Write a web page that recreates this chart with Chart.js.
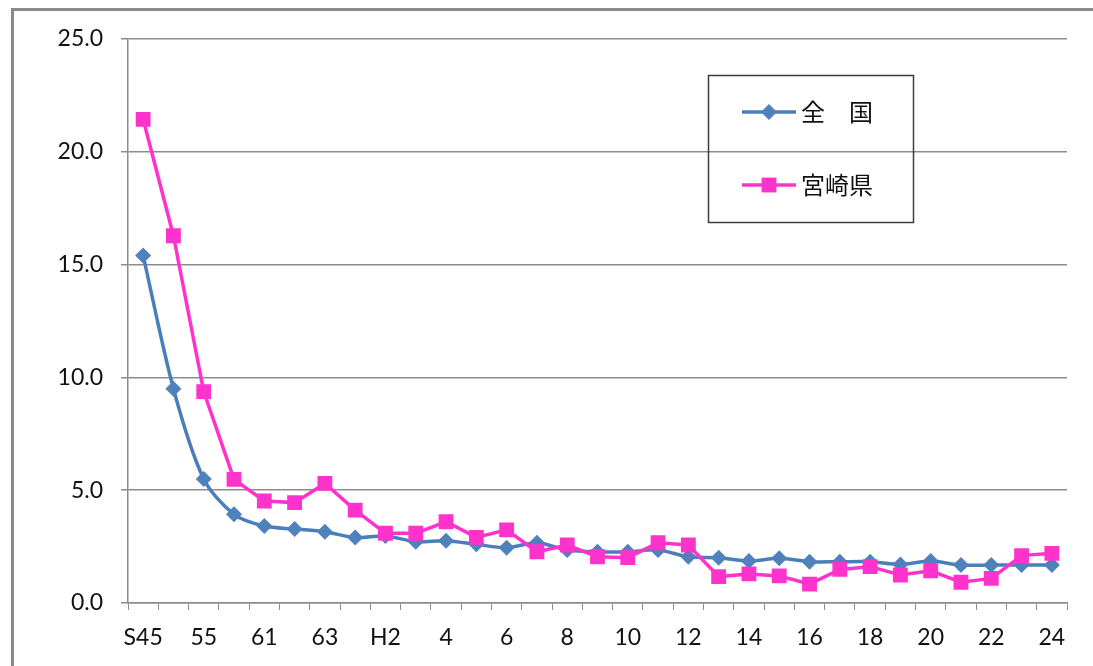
<!DOCTYPE html>
<html>
<head>
<meta charset="utf-8">
<script src="https://cdn.jsdelivr.net/npm/chart.js@4/dist/chart.umd.min.js"></script>
<style>
html, body { margin: 0; padding: 0; background: #fff; overflow: hidden; }
#frame { position: absolute; left: 11px; top: 8px; width: 1200px; height: 800px;
         border-top: 3px solid #8a8a8a; border-left: 3px solid #8a8a8a; }
#wrap { position: absolute; left: 0; top: 0; width: 1093px; height: 666px; }
</style>
</head>
<body>
<div id="frame"></div>
<div id="wrap"><canvas id="myChart" width="1093" height="666"></canvas></div>
<script>
// data
const years = ['S45', '50', '55', '60', '61', '62', '63', 'H元', 'H2', '3', '4', '5', '6', '7', '8', '9',
               '10', '11', '12', '13', '14', '15', '16', '17', '18', '19', '20', '21', '22', '23', '24'];
const national = [15.4, 9.5, 5.5, 3.93, 3.41, 3.28, 3.16, 2.9, 2.97, 2.72, 2.76, 2.6, 2.45, 2.67, 2.35, 2.27,
                  2.27, 2.35, 2.05, 2.01, 1.86, 1.98, 1.83, 1.83, 1.83, 1.71, 1.86, 1.68, 1.68, 1.68, 1.68];
const miyazaki = [21.44, 16.28, 9.37, 5.48, 4.52, 4.45, 5.3, 4.12, 3.09, 3.09, 3.6, 2.91, 3.24, 2.27, 2.57, 2.05,
                  2.01, 2.67, 2.57, 1.17, 1.29, 1.2, 0.84, 1.49, 1.61, 1.24, 1.43, 0.92, 1.09, 2.1, 2.2];
const yTicks = [0, 5, 10, 15, 20, 25];

const FONT = 'Lato, "Noto Sans", sans-serif';
const GRID = '#8c8c8c';

// legend in a box inside the plot, like the original
const boxLegend = {
    id: 'boxLegend',
    afterDraw(chart) {
        const ctx = chart.ctx;
        ctx.save();
        ctx.strokeStyle = '#3c3c3c';
        ctx.lineWidth = 1.5;
        ctx.strokeRect(708.5, 75.5, 205, 147);
        const rowsY = [112, 185];
        chart.data.datasets.forEach((ds, i) => {
            const y = rowsY[i];
            ctx.strokeStyle = ds.borderColor;
            ctx.lineWidth = ds.borderWidth;
            ctx.beginPath();
            ctx.moveTo(742, y);
            ctx.lineTo(796, y);
            ctx.stroke();
            ctx.fillStyle = ds.backgroundColor;
            Chart.helpers.drawPoint(ctx, {pointStyle: ds.pointStyle, radius: ds.pointRadius, rotation: 0, borderWidth: 0}, 769, y);
            ctx.fillStyle = '#111';
            ctx.font = '24px "Noto Sans CJK JP"';
            ctx.textBaseline = 'middle';
            ctx.fillText(ds.label, 801, y);
        });
        ctx.restore();
    }
};

const ctx = document.getElementById('myChart').getContext('2d');
const myChart = new Chart(ctx, {
    type: 'line',
    data: {
        labels: years,
        datasets: [{
            label: '全　国',
            data: national,
            borderColor: '#4A7EBB',
            backgroundColor: '#4F81BD',
            borderWidth: 3.5,
            pointStyle: 'rectRot',
            pointRadius: 8,
            pointBorderWidth: 0,
            tension: 0.3,
            order: 1,
        }, {
            label: '宮崎県',
            data: miyazaki,
            borderColor: '#FF33CC',
            backgroundColor: '#FF33CC',
            borderWidth: 3.5,
            pointStyle: 'rect',
            pointRadius: 10.5,
            pointBorderWidth: 0,
            tension: 0,
            order: 0,
        }]
    },
    options: {
        responsive: false,
        animation: false,
        events: [],
        layout: { padding: { left: 0, top: 39, right: 26, bottom: 0 } },
        plugins: { legend: { display: false }, tooltip: { enabled: false } },
        scales: {
            x: {
                offset: true,
                afterFit: (s) => { s.height = 63; },
                border: { color: GRID, width: 1.5 },
                grid: { offset: true, drawOnChartArea: false, color: GRID, tickLength: 7 },
                ticks: {
                    autoSkip: false, maxRotation: 0, padding: 14, color: '#111',
                    font: { family: FONT, size: 23 },
                    callback: (v, i) => (i % 2 === 0 ? years[i] : '')
                }
            },
            y: {
                min: 0, max: 25,
                afterFit: (s) => { s.width = 128; },
                afterBuildTicks: (s) => { s.ticks = yTicks.map(v => ({value: v})); },
                border: { color: GRID, width: 1.5 },
                grid: { color: GRID, lineWidth: 1.5, tickLength: 7 },
                ticks: {
                    padding: 18, color: '#111',
                    font: { family: FONT, size: 23 },
                    callback: (v) => v.toFixed(1)
                }
            }
        }
    },
    plugins: [boxLegend]
});
</script>
</body>
</html>
